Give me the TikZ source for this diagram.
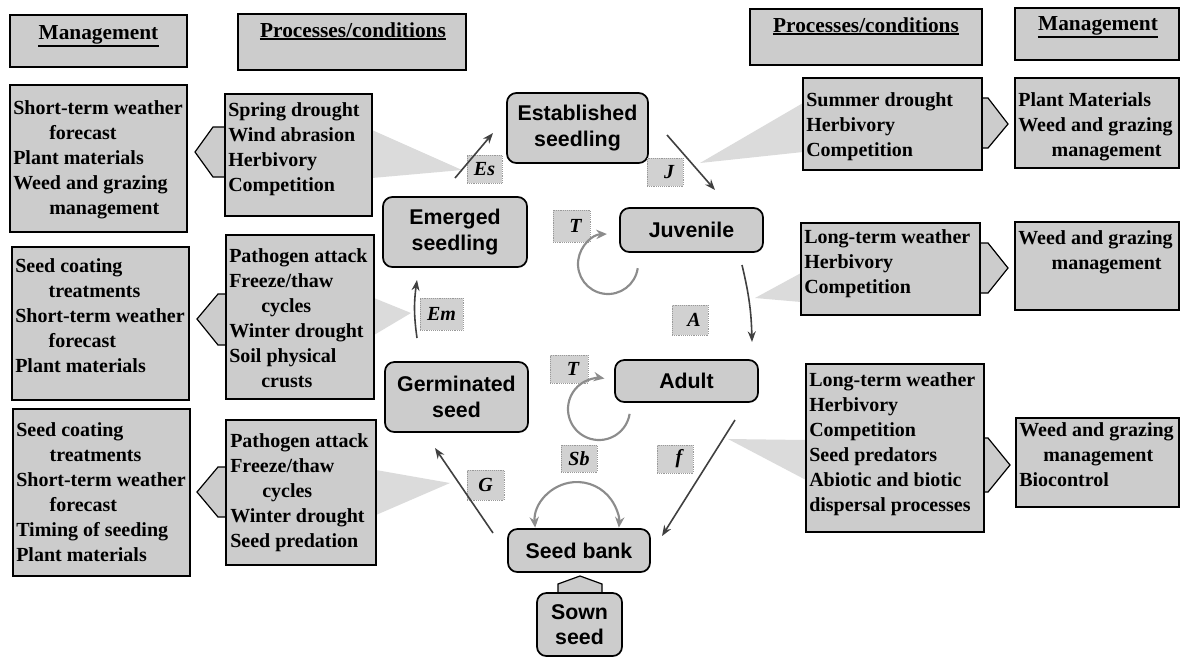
\documentclass[tikz,border=0pt]{standalone}
\usepackage{fontspec}
\setmainfont{Liberation Serif}
\setsansfont{Liberation Sans}
\usetikzlibrary{arrows.meta}
\definecolor{boxfill}{gray}{0.80}
\definecolor{wedgefill}{gray}{0.86}
\definecolor{lblfill}{gray}{0.82}
\begin{document}
\begin{tikzpicture}[x=0.75pt, y=-0.75pt,
  sqbox/.style={draw=black, line width=1.3pt, fill=boxfill, rectangle, inner sep=0pt},
  txt/.style={anchor=north west, inner sep=0pt, align=left, font=\fontsize{15}{18.75}\selectfont\bfseries},
  hdr/.style={anchor=base, inner sep=0pt, font=\fontsize{16}{19}\selectfont\bfseries},
  uline/.style={line width=1.4pt},
  stage/.style={draw=black, line width=1.3pt, fill=boxfill, rounded corners=7pt, inner sep=0pt, align=center, font=\sffamily\bfseries\fontsize{16}{19}\selectfont},
  lbl/.style={fill=lblfill, draw=black!40, densely dotted, inner sep=0pt, font=\fontsize{15}{18}\selectfont\bfseries\itshape},
  wedge/.style={fill=wedgefill, draw=none},
  chev/.style={draw=black, line width=0.9pt, fill=boxfill},
  flow/.style={draw=black!75, line width=1.2pt, -{Stealth[length=8pt,width=6pt]}},
  cyc/.style={draw=black!45, line width=1.6pt, -{Stealth[length=8pt,width=7pt]}}
]
\useasboundingbox (0,0) rectangle (1180,662);

% ---------- wedges ----------
\fill[wedge] (372,130) -- (462,170) -- (372,178) -- cycle;
\fill[wedge] (374,298) -- (411,313) -- (374,335) -- cycle;
\fill[wedge] (376,470) -- (450,483) -- (376,515) -- cycle;
\fill[wedge] (803,103) -- (700,163) -- (803,152) -- cycle;
\fill[wedge] (801,273) -- (755,298) -- (801,302) -- cycle;
\fill[wedge] (806,440) -- (728,439) -- (806,480) -- cycle;

% ---------- chevrons ----------
\draw[chev] (226,127) -- (213,127) -- (195,152) -- (213,177) -- (226,177);
\draw[chev] (227,294) -- (218,294) -- (197,319) -- (218,345) -- (227,345);
\draw[chev] (227,467) -- (218,467) -- (197,492) -- (218,517) -- (227,517);
\draw[chev] (981,98) -- (988,98) -- (1008,124) -- (988,148) -- (981,148);
\draw[chev] (979,243) -- (988,243) -- (1008,268) -- (988,293) -- (979,293);
\draw[chev] (983,438) -- (988,438) -- (1010,465) -- (988,492) -- (983,492);
\draw[chev] (558,596) -- (558,584) -- (580,576) -- (602,584) -- (602,596);

% ---------- headers ----------
\node[sqbox, minimum width=132.75pt, minimum height=39pt] (hmlbox) at (98.5,41) {};
\node[hdr] (hml) at (98.5,39) {Management};
\draw[uline] ([yshift=-1.2pt]hml.south west) -- ([yshift=-1.2pt]hml.south east);
\node[sqbox, minimum width=171pt, minimum height=42pt] (hplbox) at (352,42) {};
\node[hdr] (hpl) at (353,37) {Processes/conditions};
\draw[uline] ([yshift=-1.2pt]hpl.south west) -- ([yshift=-1.2pt]hpl.south east);
\node[sqbox, minimum width=174pt, minimum height=42pt] (hprbox) at (866,37) {};
\node[hdr] (hpr) at (866,32) {Processes/conditions};
\draw[uline] ([yshift=-1.2pt]hpr.south west) -- ([yshift=-1.2pt]hpr.south east);
\node[sqbox, minimum width=123pt, minimum height=39pt] (hmrbox) at (1097,34) {};
\node[hdr] (hmr) at (1098,30) {Management};
\draw[uline] ([yshift=-1.2pt]hmr.south west) -- ([yshift=-1.2pt]hmr.south east);

% ---------- left management ----------
\node[sqbox, minimum width=132.75pt, minimum height=110.25pt] (m1) at (98.5,158.5) {};
\node[txt] (m1t) at (13,100) {Short-term weather\\\hspace*{27pt}forecast\\Plant materials\\Weed and grazing\\\hspace*{27pt}management};
\node[sqbox, minimum width=132.75pt, minimum height=114.75pt] (m2) at (100.5,323.5) {};
\node[txt] (m2t) at (15,258) {Seed coating\\\hspace*{25pt}treatments\\Short-term weather\\\hspace*{25pt}forecast\\Plant materials};
\node[sqbox, minimum width=132.75pt, minimum height=125.25pt] (m3) at (101.5,492.5) {};
\node[txt] (m3t) at (16,422) {Seed coating\\\hspace*{25pt}treatments\\Short-term weather\\\hspace*{25pt}forecast\\Timing of seeding\\Plant materials};

% ---------- left processes ----------
\node[sqbox, minimum width=110.25pt, minimum height=91.5pt] (p1) at (298.5,155) {};
\node[txt] (p1t) at (228,102) {Spring drought\\Wind abrasion\\Herbivory\\Competition};
\node[sqbox, minimum width=111pt, minimum height=123pt] (p2) at (300,317) {};
\node[txt] (p2t) at (229,248) {Pathogen attack\\Freeze/thaw\\\hspace*{24pt}cycles\\Winter drought\\Soil physical\\\hspace*{24pt}crusts};
\node[sqbox, minimum width=112.5pt, minimum height=108.75pt] (p3) at (301,492.5) {};
\node[txt] (p3t) at (230,433) {Pathogen attack\\Freeze/thaw\\\hspace*{24pt}cycles\\Winter drought\\Seed predation};

% ---------- right processes ----------
\node[sqbox, minimum width=134.25pt, minimum height=69pt] (rp1) at (892.5,124) {};
\node[txt] (rp1t) at (806,92) {Summer drought\\Herbivory\\Competition};
\node[sqbox, minimum width=134.25pt, minimum height=69pt] (rp2) at (890.5,269) {};
\node[txt] (rp2t) at (804,229) {Long-term weather\\Herbivory\\Competition};
\node[sqbox, minimum width=133.5pt, minimum height=126pt] (rp3) at (895,448) {};
\node[txt] (rp3t) at (809,372) {Long-term weather\\Herbivory\\Competition\\Seed predators\\Abiotic and biotic\\dispersal processes};

% ---------- right management ----------
\node[sqbox, minimum width=123pt, minimum height=67.5pt] (rm1) at (1097,123) {};
\node[txt] (rm1t) at (1018,92) {Plant Materials\\Weed and grazing\\\hspace*{25pt}management};
\node[sqbox, minimum width=123pt, minimum height=66pt] (rm2) at (1097,266) {};
\node[txt] (rm2t) at (1018,230) {Weed and grazing\\\hspace*{25pt}management};
\node[sqbox, minimum width=122.25pt, minimum height=66.75pt] (rm3) at (1097.5,462.5) {};
\node[txt] (rm3t) at (1019,422) {Weed and grazing\\\hspace*{18pt}management\\Biocontrol};

% ---------- life stages ----------
\node[stage, minimum width=105.75pt, minimum height=52.5pt] (es) at (577.5,128) {Established\\seedling};
\node[stage, minimum width=108pt, minimum height=52.5pt] (em) at (455,232) {Emerged\\seedling};
\node[stage, minimum width=107.25pt, minimum height=33pt] (ju) at (691.5,230) {Juvenile};
\node[stage, minimum width=107.25pt, minimum height=52.5pt] (gs) at (456.5,397) {Germinated\\seed};
\node[stage, minimum width=107.25pt, minimum height=31.5pt] (ad) at (686.5,381) {Adult};
\node[stage, minimum width=106.5pt, minimum height=32.25pt] (sb) at (579,550.5) {Seed bank};
\node[stage, minimum width=63.75pt, minimum height=47.25pt] (ss) at (579.5,624.5) {Sown\\seed};

% ---------- labels ----------
\node[lbl, minimum width=26.25pt, minimum height=21pt] (les) at (484.5,169) {Es};
\node[lbl, minimum width=27pt, minimum height=21pt] (lj) at (665,172) {\hspace*{6pt}J};
\node[lbl, minimum width=27.75pt, minimum height=24pt] (lt1) at (571.5,226) {\hspace*{6pt}T};
\node[lbl, minimum width=32.25pt, minimum height=24pt] (lem) at (441.5,314) {Em};
\node[lbl, minimum width=27pt, minimum height=22.5pt] (la) at (690,320) {\hspace*{6pt}A};
\node[lbl, minimum width=28.5pt, minimum height=21pt] (lt2) at (569,369) {\hspace*{6pt}T};
\node[lbl, minimum width=27pt, minimum height=20.25pt] (lsb) at (579,458.5) {Sb};
\node[lbl, minimum width=27pt, minimum height=21pt] (lf) at (675,459) {\hspace*{6pt}f};
\node[lbl, minimum width=27.75pt, minimum height=22.5pt] (lg) at (485.5,485) {G};

% ---------- transition arrows ----------
\coordinate (es0) at (455,178); \coordinate (es1) at (493,133);
\coordinate (j0) at (667,135);  \coordinate (j1) at (715,190);
\coordinate (a0) at (742,265);  \coordinate (a1) at (752,342);
\coordinate (em0) at (417,338); \coordinate (em1) at (417,280);
\coordinate (g0) at (493,533);  \coordinate (g1) at (435,448);
\coordinate (f0) at (735,420);  \coordinate (f1) at (662,536);
\draw[flow] (es0) -- (es1);
\draw[flow] (j0) -- (j1);
\draw[flow] (a0) to[bend left=6] (a1);
\draw[flow] (em0) to[bend left=8] (em1);
\draw[flow] (g0) -- (g1);
\draw[flow] (f0) -- (f1);

% ---------- cycles ----------
\coordinate (c1) at (608,264);
\coordinate (c2) at (599,409);
\coordinate (c3) at (577,524);
\draw[cyc] (c1) ++(8:30) arc[start angle=8, end angle=268, radius=30];
\draw[cyc] (c2) ++(9:31) arc[start angle=9, end angle=280, radius=31];
\draw[cyc, {Stealth[length=8pt,width=7pt]}-{Stealth[length=8pt,width=7pt]}] (c3) ++(175:42) arc[start angle=175, end angle=365, radius=42];
\end{tikzpicture}
\end{document}
